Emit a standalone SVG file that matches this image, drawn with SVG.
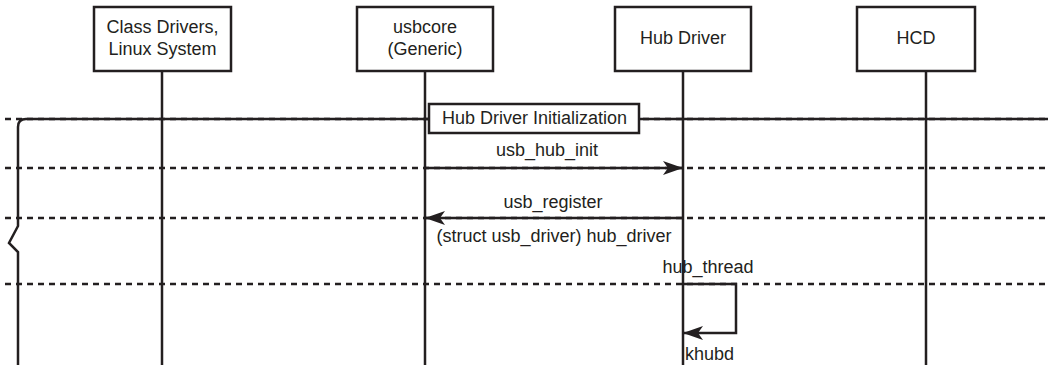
<svg xmlns="http://www.w3.org/2000/svg" width="1048" height="365" viewBox="0 0 1048 365">
<defs>
<style>
.box{fill:#fff;stroke:#231f20;stroke-width:2.5}
.life{stroke:#231f20;stroke-width:2.5;fill:none}
.dash{stroke:#231f20;stroke-width:2.5;stroke-dasharray:6,5;fill:none}
.solid{stroke:#231f20;stroke-width:2.5;fill:none}
text{font-family:"Liberation Sans",Arial,sans-serif;font-size:18px;fill:#231f20;text-anchor:middle}
</style>
<marker id="ah" viewBox="0 0 20 14" refX="20" refY="7" markerWidth="20" markerHeight="14" markerUnits="userSpaceOnUse" orient="auto">
<path d="M0,0 L20,7 L0,14 L5,7 Z" fill="#231f20"/>
</marker>
</defs>
<rect width="1048" height="365" fill="#fff"/>
<g id="lifelines">
<line class="life" x1="162" y1="71" x2="162" y2="365"/>
<line class="life" x1="425" y1="71" x2="425" y2="365"/>
<line class="life" x1="683" y1="71" x2="683" y2="365"/>
<line class="life" x1="926" y1="71" x2="926" y2="365"/>
</g>
<g id="node-class-drivers">
<rect class="box" x="94" y="7" width="137" height="64"/>
<text x="162.5" y="33">Class Drivers,</text>
<text x="162.5" y="55">Linux System</text>
</g>
<g id="node-usbcore">
<rect class="box" x="357" y="7" width="136" height="64"/>
<text x="425" y="33">usbcore</text>
<text x="425" y="55">(Generic)</text>
</g>
<g id="node-hub-driver">
<rect class="box" x="615" y="7" width="136" height="64"/>
<text x="683" y="44">Hub Driver</text>
</g>
<g id="node-hcd">
<rect class="box" x="857" y="7" width="118" height="64"/>
<text x="916" y="44">HCD</text>
</g>
<g id="connectors">
<line class="dash" x1="5" y1="119" x2="1048" y2="119"/>
<line class="dash" x1="5" y1="168" x2="1048" y2="168"/>
<line class="dash" x1="5" y1="218" x2="1048" y2="218"/>
<line class="dash" x1="5" y1="284" x2="1048" y2="284"/>
<path class="solid" d="M1048,119 L26,119 Q18,119 18,127 L18,226 L9,243 L18,252 L18,365"/>
<line class="solid" x1="425" y1="168" x2="683" y2="168" marker-end="url(#ah)"/>
<line class="solid" x1="683" y1="218" x2="425" y2="218" marker-end="url(#ah)"/>
<path class="solid" d="M683,284 L736,284 L736,333 L683,333" marker-end="url(#ah)"/>
</g>
<g id="frame-label">
<rect class="box" x="429" y="104" width="210" height="29"/>
<text x="534.5" y="124">Hub Driver Initialization</text>
</g>
<g id="labels">
<text x="547" y="156">usb_hub_init</text>
<text x="553" y="208">usb_register</text>
<text x="554" y="242">(struct usb_driver) hub_driver</text>
<text x="708" y="273">hub_thread</text>
<text x="685" y="360" style="text-anchor:start">khubd</text>
</g>
</svg>
